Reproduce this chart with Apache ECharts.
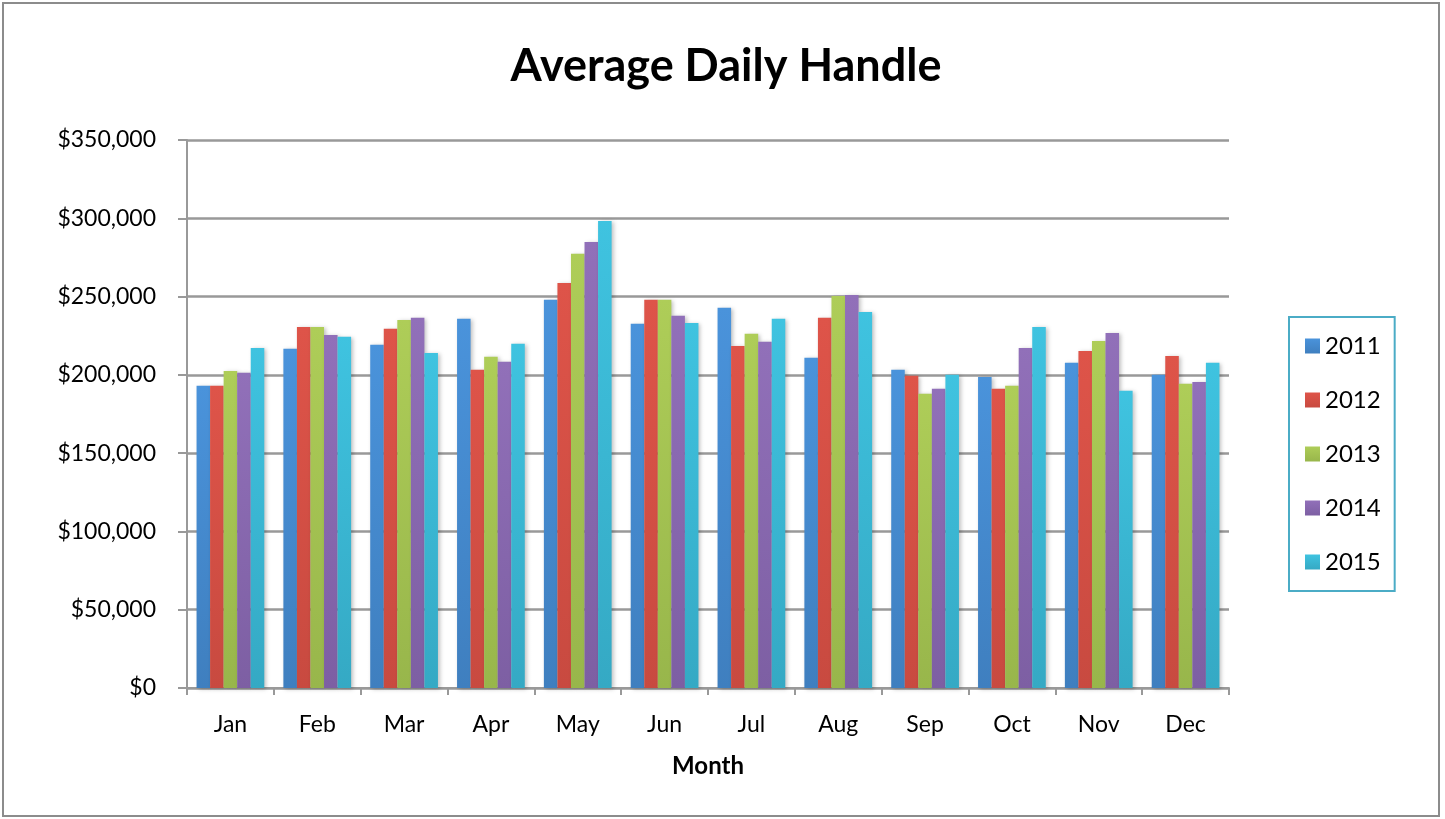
<!DOCTYPE html>
<html>
<head>
<meta charset="utf-8">
<script src="https://cdn.jsdelivr.net/npm/echarts@6/dist/echarts.min.js"></script>
<style>html,body{margin:0;padding:0;background:#fff}#c{width:1445px;height:819px}</style>
</head>
<body>
<div id="c"></div>
<script>
const months = ['Jan','Feb','Mar','Apr','May','Jun','Jul','Aug','Sep','Oct','Nov','Dec'];
const yearNames = ['2011','2012','2013','2014','2015'];
const s2011 = [193000,216600,219200,235800,247900,232600,242800,210900,203200,198700,207700,200000];
const s2012 = [193000,230600,229400,203200,258700,247900,218500,236400,199400,191100,215300,212100];
const s2013 = [202500,230600,235100,211500,277300,247900,226200,250400,187900,193000,221700,194300];
const s2014 = [201300,225500,236400,208300,284900,237700,221100,251000,191100,217200,226800,195500];
const s2015 = [217200,224300,214000,219800,298300,233200,235800,240200,200000,230600,189800,207700];
const yTicks = [0,50000,100000,150000,200000,250000,300000,350000];

const seriesData = [s2011,s2012,s2013,s2014,s2015];
const colorsTop = ['#4a93db','#de5449','#aecd58','#9170b9','#3fc3e0'];
const colorsBot = ['#3f7fbf','#c84a40','#98b64b','#7d5fa3','#35a9c4'];
const font = 'Lato, "Open Sans", sans-serif';

const chart = echarts.init(document.getElementById('c'), null, {renderer:'canvas'});
chart.setOption({
  animation:false,
  backgroundColor:'#fff',
  title:{text:'Average Daily Handle', left:721, textAlign:'center', top:39,
    textStyle:{fontFamily:font, fontSize:45, fontWeight:'bold', color:'#000'}},
  graphic:[{type:'rect', shape:{x:3,y:3,width:1436,height:813}, style:{fill:'none', stroke:'#8c8c8c', lineWidth:2}, z:-1}],
  legend:{orient:'vertical', left:1289, top:317, itemWidth:15, itemHeight:15, itemGap:30,
    padding:[17,14,17,16], borderColor:'#4bacc6', borderWidth:2, icon:'rect',
    textStyle:{fontFamily:font, fontSize:24, color:'#000', lineHeight:24},
    data:yearNames},
  grid:{left:187, right:216, top:140, bottom:131},
  xAxis:{type:'category', data:months,
    axisLine:{lineStyle:{color:'#999', width:2}},
    axisTick:{show:true, alignWithLabel:false, length:7, lineStyle:{color:'#999', width:2}},
    axisLabel:{fontFamily:font, fontSize:23, color:'#000', margin:25},
    name:'Month', nameLocation:'middle', nameGap:66,
    nameTextStyle:{fontFamily:font, fontSize:24, fontWeight:'bold', color:'#000'}},
  yAxis:{type:'value', min:yTicks[0], max:yTicks[yTicks.length-1], interval:50000,
    axisLine:{show:true, lineStyle:{color:'#999', width:2}},
    axisTick:{show:true, length:9, lineStyle:{color:'#999', width:2}},
    splitLine:{lineStyle:{color:'#999', width:2.5}},
    axisLabel:{fontFamily:font, fontSize:23, color:'#000', margin:31,
      formatter:v=>'$'+v.toLocaleString('en-US')}},
  series: yearNames.map((n,i)=>({
    name:n, type:'bar', data:seriesData[i], barGap:'0%', barCategoryGap:'22%',
    itemStyle:{color:new echarts.graphic.LinearGradient(0,0,0,1,[{offset:0,color:colorsTop[i]},{offset:1,color:colorsBot[i]}]),
      shadowBlur:4, shadowColor:'rgba(0,0,0,0.25)', shadowOffsetX:2, shadowOffsetY:1}
  }))
});
</script>
</body>
</html>
